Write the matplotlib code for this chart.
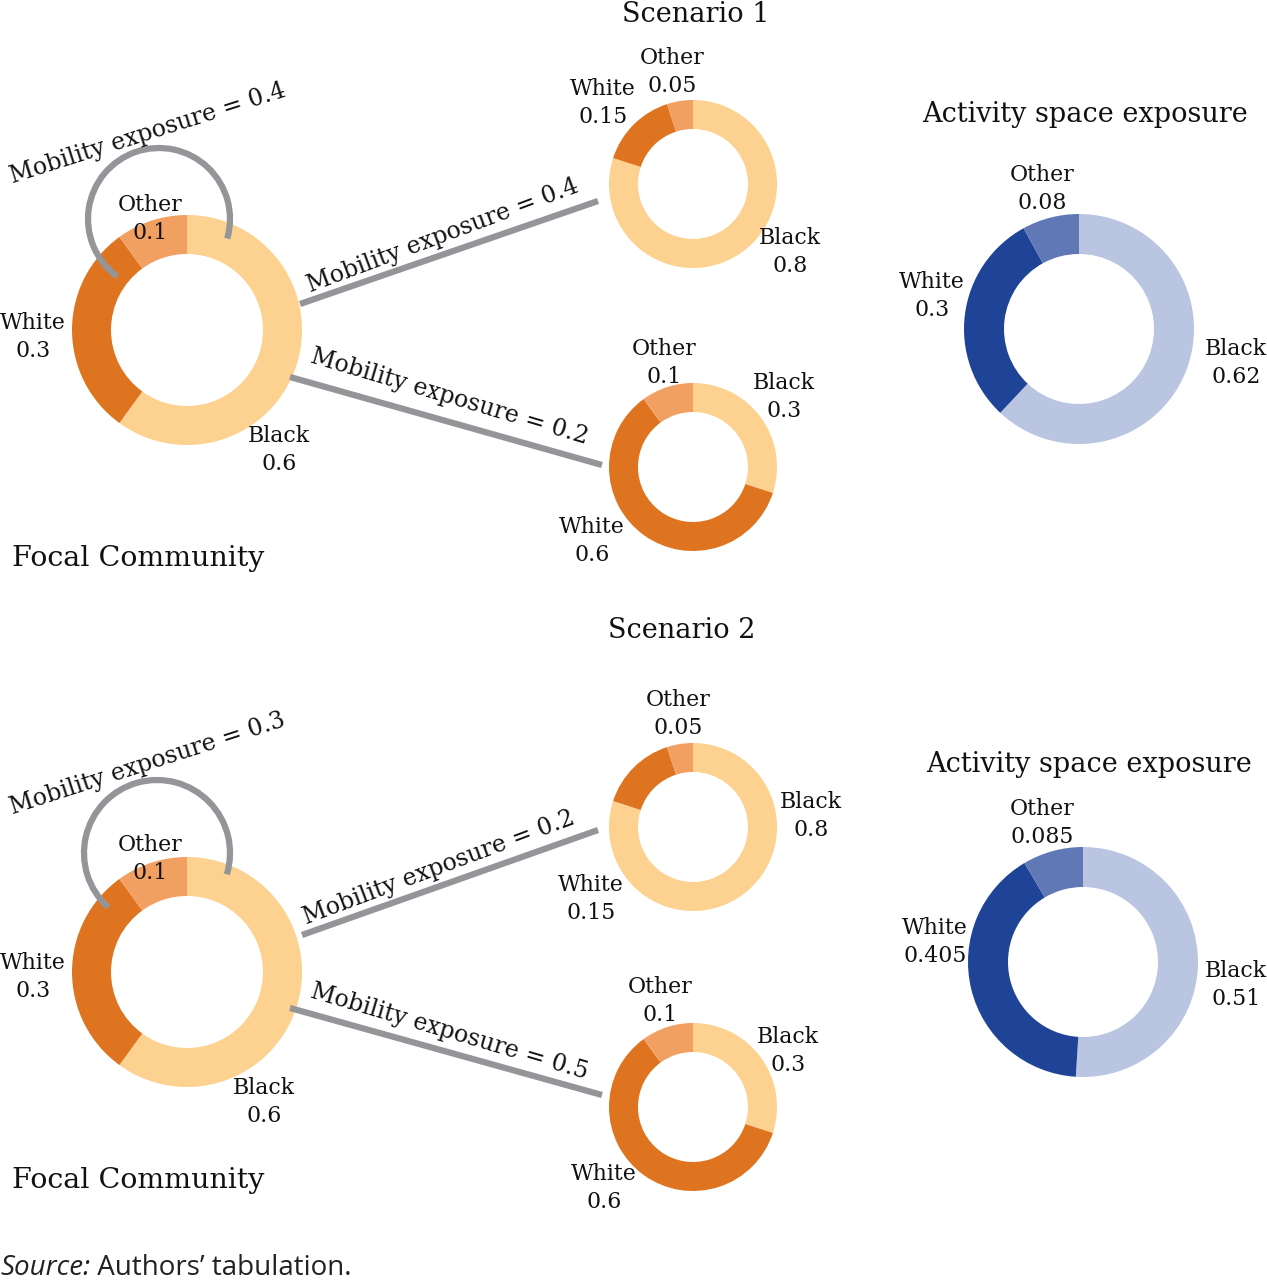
"""
Exposicao no espaco de atividade: dois cenarios com rosquinhas (donuts)
da composicao racial da comunidade focal e das comunidades visitadas.
"""

import matplotlib

matplotlib.use("Agg")
import matplotlib.pyplot as plt  # noqa: E402
from matplotlib.patches import Arc  # noqa: E402

W, H = 1267, 1280

groups = ["Black", "White", "Other"]

# cenario 1
s1_focal = [0.6, 0.3, 0.1]
s1_top = [0.8, 0.15, 0.05]
s1_bottom = [0.3, 0.6, 0.1]
s1_activity = [0.62, 0.3, 0.08]
s1_mobility = [0.4, 0.4, 0.2]  # propria comunidade, superior, inferior

# cenario 2
s2_focal = [0.6, 0.3, 0.1]
s2_top = [0.8, 0.15, 0.05]
s2_bottom = [0.3, 0.6, 0.1]
s2_activity = [0.51, 0.405, 0.085]
s2_mobility = [0.3, 0.2, 0.5]

ORANGE = ["#fdd18f", "#de7420", "#f2a062"]
BLUE = ["#b9c5e1", "#1f4497", "#6079b6"]
GRAY = "#939598"
SERIF = "DejaVu Serif"
INK = "#111111"

fig = plt.figure(figsize=(W / 100, H / 100), dpi=100)
ax = fig.add_axes([0, 0, 1, 1])


def Y(py):
    # posicoes lidas em pixels a partir do topo
    return H - py


def donut(values, cx, cy, r, w, colors):
    ax.pie(values, colors=colors, startangle=90, counterclock=False,
           radius=r, center=(cx, Y(cy)),
           wedgeprops=dict(width=w, edgecolor="none", linewidth=0))


def label(txt, x, y, size=15.8):
    ax.text(x, Y(y), txt, ha="center", va="center", family=SERIF,
            fontsize=size, linespacing=1.33, color=INK)


def link(x0, y0, x1, y1):
    ax.plot([x0, x1], [Y(y0), Y(y1)], color=GRAY, lw=4.5,
            solid_capstyle="butt", zorder=1)


def mob_text(val, x, y, rot):
    ax.text(x, Y(y), f"Mobility exposure = {val}", ha="center", va="center",
            rotation=rot, rotation_mode="anchor", family=SERIF,
            fontsize=17, color=INK)


def scenario(p, focal, top, bottom, activity, mobility, title, lab, arc):
    ax.text(p["title_x"], Y(p["title_y"]), title, ha="center", va="center",
            family=SERIF, fontsize=19.5, color=INK)

    # comunidade focal
    donut(focal, 187, p["focal_cy"], 115, 39, ORANGE)
    # comunidades visitadas
    donut(top, 693, p["top_cy"], 84, 29, ORANGE)
    donut(bottom, 693, p["bot_cy"], 84, 29, ORANGE)
    # espaco de atividade
    donut(activity, p["act_cx"], p["act_cy"], 115, 40, BLUE)

    # laco da propria comunidade
    acx, acy, ar, t1, t2 = arc
    ax.add_patch(Arc((acx, Y(acy)), 2 * ar, 2 * ar, theta1=t1, theta2=t2,
                     color=GRAY, lw=4.5, capstyle="butt", zorder=3))
    link(*p["line_top"])
    link(*p["line_bot"])

    mob_text(mobility[0], *p["mob_self"])
    mob_text(mobility[1], *p["mob_top"])
    mob_text(mobility[2], *p["mob_bot"])

    for vals, key in [(focal, "focal"), (top, "top"), (bottom, "bot"),
                      (activity, "act")]:
        for g, v, pos in zip(groups, vals, lab[key]):
            label(f"{g}\n{v:g}", *pos)

    ax.text(p["act_cx"] + 6, Y(p["act_title_y"]), "Activity space exposure",
            ha="center", va="center", family=SERIF, fontsize=19.5, color=INK)
    ax.text(12, Y(p["focal_title_y"]), "Focal Community", ha="left",
            va="center", family=SERIF, fontsize=20.5, color=INK)


p1 = {
    "title_x": 696, "title_y": 14, "focal_cy": 330,
    "top_cy": 184, "bot_cy": 467, "act_cx": 1079, "act_cy": 329,
    "line_top": (300, 304, 598, 201), "line_bot": (290, 377, 602, 465),
    "mob_self": (148, 133, 17.6), "mob_top": (443, 236, 20.5),
    "mob_bot": (449, 397, -16.5),
    "act_title_y": 114, "focal_title_y": 558,
}
lab1 = {
    "focal": [(279, 450), (33, 337), (150, 219)],
    "top": [(790, 252), (603, 103), (672, 72)],
    "bot": [(784, 397), (592, 541), (664, 363)],
    "act": [(1236, 363), (932, 296), (1042, 189)],
}
p2 = {
    "title_x": 682, "title_y": 631, "focal_cy": 972,
    "top_cy": 827, "bot_cy": 1107, "act_cx": 1083, "act_cy": 962,
    "line_top": (302, 935, 598, 830), "line_bot": (290, 1008, 602, 1095),
    "mob_self": (148, 764, 17.9), "mob_top": (439, 868, 20.5),
    "mob_bot": (449, 1032, -16.5),
    "act_title_y": 765, "focal_title_y": 1181,
}
lab2 = {
    "focal": [(264, 1102), (33, 977), (150, 859)],
    "top": [(811, 816), (591, 899), (678, 714)],
    "bot": [(788, 1051), (604, 1188), (660, 1001)],
    "act": [(1236, 985), (935, 942), (1042, 823)],
}

scenario(p1, s1_focal, s1_top, s1_bottom, s1_activity, s1_mobility,
         "Scenario 1", lab1, (159, 219, 71, -16, 234))
scenario(p2, s2_focal, s2_top, s2_bottom, s2_activity, s2_mobility,
         "Scenario 2", lab2, (157, 853, 73, -17, 228))

# fonte
src = ax.text(0, Y(1268), "Source:", ha="left", va="center",
              family="Open Sans", style="italic", fontsize=20,
              color="#222222")
ax.annotate(" Authors\u2019 tabulation.", xy=(1, 0), xycoords=src,
            ha="left", va="bottom", family="Open Sans", fontsize=20,
            color="#222222")

ax.set_xlim(0, W)
ax.set_ylim(0, H)
ax.set_aspect("equal")
ax.axis("off")

fig.savefig("out.png", dpi=100)
plt.close(fig)
